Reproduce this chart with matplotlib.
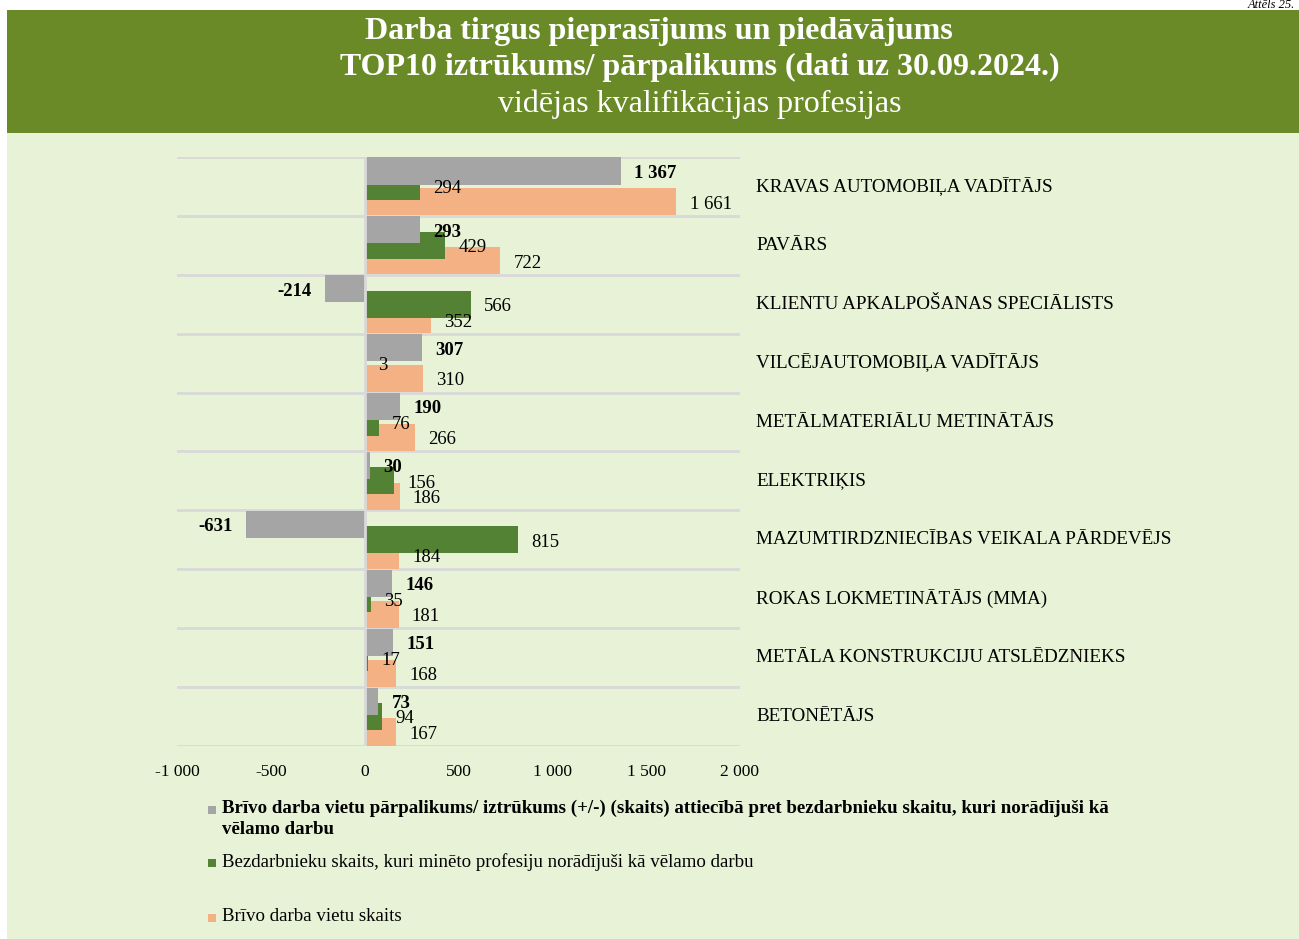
import matplotlib
matplotlib.use("Agg")
import matplotlib.pyplot as plt
from matplotlib.patches import Rectangle

categories = ["KRAVAS AUTOMOBIĻA VADĪTĀJS", "PAVĀRS", "KLIENTU APKALPOŠANAS SPECIĀLISTS",
              "VILCĒJAUTOMOBIĻA VADĪTĀJS", "METĀLMATERIĀLU METINĀTĀJS", "ELEKTRIĶIS",
              "MAZUMTIRDZNIECĪBAS VEIKALA PĀRDEVĒJS", "ROKAS LOKMETINĀTĀJS (MMA)",
              "METĀLA KONSTRUKCIJU ATSLĒDZNIEKS", "BETONĒTĀJS"]
balance = [1367, 293, -214, 307, 190, 30, -631, 146, 151, 73]
unemployed = [294, 429, 566, 3, 76, 156, 815, 35, 17, 94]
vacancies = [1661, 722, 352, 310, 266, 186, 184, 181, 168, 167]
xticks = [-1000, -500, 0, 500, 1000, 1500, 2000]

series_names = ["Brīvo darba vietu pārpalikums/ iztrūkums (+/-) (skaits) attiecībā pret bezdarbnieku skaitu, kuri norādījuši kā\nvēlamo darbu",
                "Bezdarbnieku skaits, kuri minēto profesiju norādījuši kā vēlamo darbu",
                "Brīvo darba vietu skaits"]
title1 = "Darba tirgus pieprasījums un piedāvājums"
title2 = "TOP10 iztrūkums/ pārpalikums (dati uz 30.09.2024.)"
title3 = "vidējas kvalifikācijas profesijas"

C_GRAY = "#a5a5a5"
C_GREEN = "#548235"
C_ORANGE = "#f4b183"
BG = "#e8f2d6"
BAND = "#6a8a27"
SERIF = ["Liberation Serif", "DejaVu Serif"]

def fmt(v):
    s = f"{abs(v):,}".replace(",", " ")
    return ("-" if v < 0 else "") + s

W, H = 1299, 939
fig = plt.figure(figsize=(W / 100, H / 100), dpi=100)
fig.patch.set_facecolor("white")

# backgrounds
fig.patches.append(Rectangle((7 / W, 0), 1 - 7 / W, 1 - 133 / H, transform=fig.transFigure,
                             facecolor=BG, edgecolor="none", zorder=-2))
fig.patches.append(Rectangle((7 / W, 1 - 133 / H), 1 - 7 / W, 123 / H, transform=fig.transFigure,
                             facecolor=BAND, edgecolor="none", zorder=-2))

fig.text(1295 / W, 1 - 8 / H, "Attēls 25.", ha="right", va="baseline", fontsize=9,
         style="italic", family=SERIF, color="black")
fig.text(659 / W, 1 - 32 / H, title1, ha="center", va="center", fontsize=23, weight="bold",
         family=SERIF, color="white")
fig.text(700 / W, 1 - 67 / H, title2, ha="center", va="center", fontsize=23, weight="bold",
         family=SERIF, color="white")
fig.text(700 / W, 1 - 104 / H, title3, ha="center", va="center", fontsize=23,
         family=SERIF, color="white")

ax = fig.add_axes([177 / W, 1 - 746 / H, (740 - 177) / W, (746 - 157) / H])
ax.set_facecolor("none")
n = len(categories)
y = list(range(n))
off = 0.263
h = 0.46
ax.barh([v - off for v in y], balance, height=h, color=C_GRAY, zorder=4)
ax.barh(y, unemployed, height=h, color=C_GREEN, zorder=3)
ax.barh([v + off for v in y], vacancies, height=h, color=C_ORANGE, zorder=2)

ax.set_xlim(-1000, 2000)
ax.set_ylim(n - 0.5, -0.5)
ax.set_xticks(xticks)
ax.set_xticklabels([fmt(t) for t in xticks], fontsize=12.5, family=SERIF)
ax.set_yticks([])
ax.tick_params(axis="x", length=0, pad=13)
for s in ax.spines.values():
    s.set_visible(False)
for b in range(n + 1):
    ax.axhline(b - 0.5, color="#d9d9d9", lw=2, zorder=1)
ax.axvline(0, color="#d9d9d9", lw=2, zorder=5)

dx = 70
for i in range(n):
    for vals, yy, bold in ((balance, i - off, True), (unemployed, i, False), (vacancies, i + off, False)):
        v = vals[i]
        ax.text(v + dx if v >= 0 else v - dx, yy + 0.04, fmt(v), ha="left" if v >= 0 else "right",
                va="center", fontsize=13.5, weight="bold" if bold else "normal",
                family=SERIF, zorder=6)

for i, c in enumerate(categories):
    ycen = 1 - (157 + 58.9 * (i + 0.5)) / H
    fig.text(756 / W, ycen, c, ha="left", va="center", fontsize=13.8, family=SERIF)

# legend
leg = [(810, C_GRAY, True), (863, C_GREEN, False), (918, C_ORANGE, False)]
for (yy, col, bold), name in zip(leg, series_names):
    fig.patches.append(Rectangle((208 / W, 1 - (yy + 4) / H), 8 / W, 8 / H,
                                 transform=fig.transFigure, facecolor=col, edgecolor="none"))
    fig.text(222 / W, 1 - (yy - 10) / H, name, ha="left", va="top", fontsize=13.6,
             weight="bold" if bold else "normal", family=SERIF, linespacing=1.3)

fig.savefig("out.png", dpi=100, facecolor=fig.get_facecolor())
